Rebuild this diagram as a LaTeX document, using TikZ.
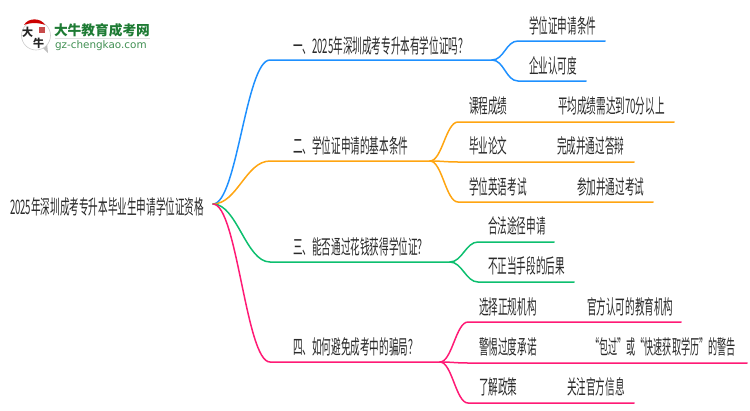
\documentclass[tikz,border=0pt]{standalone}
\usepackage{fontspec}
\newfontfamily\cjk[FakeStretch=0.48]{Noto Sans CJK SC}
\newfontfamily\logofont{Noto Sans CJK SC}
\newfontfamily\urlfont{DejaVu Sans}
\definecolor{inkgray}{HTML}{2A2A2A}
\definecolor{limbblue}{HTML}{1E90FF}
\definecolor{limborange}{HTML}{FFA511}
\definecolor{limbgreen}{HTML}{0DBF6F}
\definecolor{limbpink}{HTML}{FF1A75}
\definecolor{logogreen}{HTML}{1E7B34}
\tikzset{
    every node/.style={inner sep=0pt,outer sep=0pt},
    lbl/.style={anchor=base west,text=inkgray,font=\cjk\fontsize{20}{20}\selectfont},
    limb/.style={line width=1.5pt,line cap=round},
    seal/.style={font=\logofont\bfseries\fontsize{11}{11}\selectfont,text=black!85}
}
\begin{document}
\begin{tikzpicture}[x=1pt,y=-1pt]
    \useasboundingbox (0,0) rectangle (750,410);
    %% logo
    \fill[black!25] (41,46) -- (48,53) -- (47,43) -- cycle;
    \fill[white,draw=black!20,line width=0.6pt] (36,35.5) circle (14.5);
    \fill[red!80!black] (24,25) .. controls (28,17.5) and (41,17.5) .. (45,25) .. controls (40,22.5) and (29,22.5) .. (24,25) -- cycle;
    \fill[red!70!black,opacity=0.7] (38.5,26.5) rectangle (45,33);
    \node[seal] (bigmark) at (27.5,32) {大};
    \node[seal] (oxmark) at (38.5,43) {牛};
    \node[anchor=base west,text=logogreen,font=\logofont\bfseries\fontsize{13.7}{14}\selectfont] (logotitle) at (54,35) {大牛教育成考网};
    \node[anchor=base west,text=logogreen!85,font=\urlfont\fontsize{10.4}{11}\selectfont] (logourl) at (55,48.5) {gz-chengkao.com};
    \draw[black!12,line width=0.7pt] (55,38.5) -- (150,38.5);
    %% root
    \node[lbl] (root) at (10,214.5) {2025年深圳成考专升本毕业生申请学位证资格};
    \coordinate (hub) at (213,204);
    %% first level
    \node[lbl] (one) at (293,53.5) {一、2025年深圳成考专升本有学位证吗？};
    \node[lbl] (two) at (293,153.5) {二、学位证申请的基本条件};
    \node[lbl] (three) at (293,254.5) {三、能否通过花钱获得学位证？};
    \node[lbl] (four) at (293,354.5) {四、如何避免成考中的骗局？};
    %% second level
    \node[lbl] (degreecond) at (529,33.5) {学位证申请条件};
    \node[lbl] (employer) at (529,73.5) {企业认可度};
    \node[lbl] (course) at (469,113.5) {课程成绩};
    \node[lbl] (average) at (558,113.5) {平均成绩需达到70分以上};
    \node[lbl] (thesis) at (469,153.5) {毕业论文};
    \node[lbl] (defence) at (557,153.5) {完成并通过答辩};
    \node[lbl] (english) at (469,194.5) {学位英语考试};
    \node[lbl] (exam) at (577,194.5) {参加并通过考试};
    \node[lbl] (legal) at (488,233.5) {合法途径申请};
    \node[lbl] (improper) at (488,273.5) {不正当手段的后果};
    \node[lbl] (choose) at (479,314.5) {选择正规机构};
    \node[lbl] (official) at (587,314.5) {官方认可的教育机构};
    \node[lbl] (beware) at (479,354.5) {警惕过度承诺};
    \node[lbl,xscale=0.95,transform shape] (warning) at (590,354.5) {“包过”或“快速获取学历”的警告};
    \node[lbl] (policy) at (479,394.5) {了解政策};
    \node[lbl] (info) at (567,394.5) {关注官方信息};
    %% ends of the lines
    \foreach \name/\x/\y in {a/270/60,ae/492/60,b/270/161,be/430/161,c/270/262,ce/450/262,d/270/362,de/440/362,
        a1/518/41,a1e/605/41,a2/518/81,a2e/586/81,
        b1/458/122,b1e/674/122,b2/458/162,b2e/634/162,b3/458/202,b3e/653/202,
        c1/478/242,c1e/554/242,c2/478/282,c2e/574/282,
        d1/468/322,d1e/681/322,d2/468/363,d2e/747/363,d3/468/403,d3e/634/403}
        \coordinate (\name) at (\x,\y);
    %% limbs from the root
    \foreach \col/\to/\stop in {limbblue/a/ae,limborange/b/be,limbgreen/c/ce,limbpink/d/de}
        \draw[limb,\col] (hub) .. controls +(24,0) and +(-24,0) .. (\to) -- (\stop);
    %% twigs
    \foreach \col/\from/\to/\stop in {limbblue/ae/a1/a1e,limbblue/ae/a2/a2e,
        limborange/be/b1/b1e,limborange/be/b2/b2e,limborange/be/b3/b3e,
        limbgreen/ce/c1/c1e,limbgreen/ce/c2/c2e,
        limbpink/de/d1/d1e,limbpink/de/d2/d2e,limbpink/de/d3/d3e}
        \draw[limb,\col] (\from) .. controls +(12,0) and +(-12,0) .. (\to) -- (\stop);
\end{tikzpicture}
\end{document}
